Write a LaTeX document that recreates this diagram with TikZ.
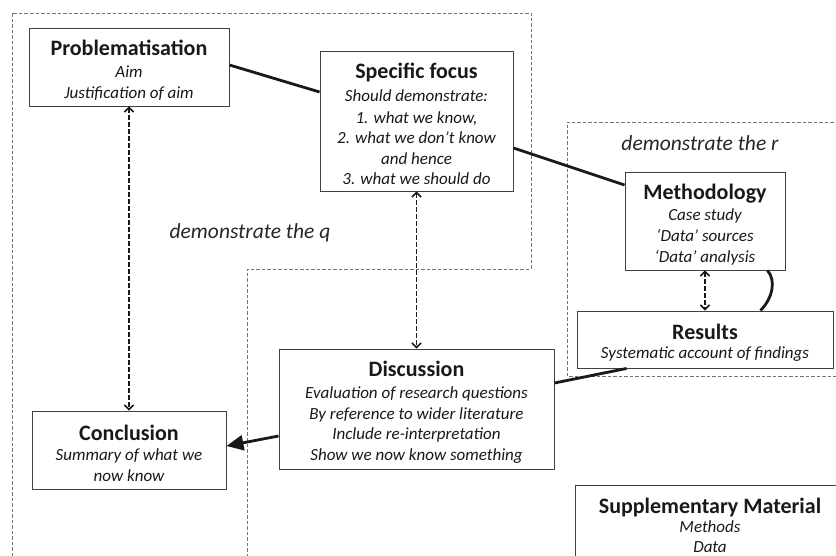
\documentclass[tikz,border=0pt]{standalone}
\usepackage{fontspec}
\setmainfont{Carlito}
\usetikzlibrary{arrows.meta,calc}
\begin{document}
\begin{tikzpicture}[x=1pt,y=-1pt,
  boxline/.style={draw=black!75,line width=0.9pt},
  box/.style={boxline,fill=white,align=center,inner sep=0pt,
    font=\fontsize{17}{20.6}\selectfont\itshape,text=black!90},
  region/.style={draw=black!55,line width=0.8pt,dash pattern=on 3.5pt off 2pt},
  thick link/.style={line width=2.8pt,black!90},
  dlink/.style={line width=1.8pt,black!90,dash pattern=on 5pt off 2pt,
    {Straight Barb[length=4.5pt,width=9pt,line width=1.6pt]}-{Straight Barb[length=4.5pt,width=9pt,line width=1.6pt]}},
  lbl/.style={font=\fontsize{21.5}{24}\selectfont\itshape,text=black!85,inner sep=0pt}]
\useasboundingbox (0,0) rectangle (836,556);
\clip (0,0) rectangle (836,556);
\newcommand{\ttl}[1]{{\upshape\bfseries\fontsize{22}{24}\selectfont\rule{0pt}{22pt}#1}}
% regions
\draw[region] (12,556) -- (12,13) -- (531,13) -- (531,269) -- (247,269) -- (247,556);
\draw[region] (850,122) -- (567,122) -- (567,376) -- (850,376);
\node[lbl] (lq) at (250,233) {demonstrate the q};
\node[lbl] (lr) at (700,143) {demonstrate the r};
% nodes
\node[box,minimum width=200,minimum height=78] (prob) at (129,67)
  {\ttl{Problematisation}\\[1pt] Aim\\ Justification of aim};
\node[box,minimum width=193,minimum height=140] (spec) at (416.5,121)
  {\ttl{Specific focus}\\[2pt] Should demonstrate:\\[1pt] 1. what we know,\\ 2. what we don’t know\\ and hence\\ 3. what we should do};
\node[box,minimum width=160,minimum height=98] (meth) at (705,221)
  {\ttl{Methodology}\\[1pt] Case study\\ ‘Data’ sources\\ ‘Data’ analysis};
\node[box,minimum width=256,minimum height=57] (res) at (705,339.5)
  {\ttl{Results}\\[-1pt] Systematic account of findings};
\node[box,minimum width=275,minimum height=120] (disc) at (416.5,409)
  {\ttl{Discussion}\\[1pt] Evaluation of research questions\\ By reference to wider literature\\ Include re-interpretation\\ Show we now know something};
\node[box,minimum width=194,minimum height=78] (conc) at (129,450)
  {\ttl{Conclusion}\\[0pt] Summary of what we\\ now know};
\node[box,draw=none,fill=none,minimum width=268,anchor=north,text depth=0pt,
  font=\fontsize{17}{20}\selectfont\itshape] (supp) at (710,485)
  {{\upshape\bfseries\fontsize{22}{24}\selectfont\rule{0pt}{28pt}Supplementary Material}\\[-1pt] Methods\\ Data};
\draw[boxline] ([yshift=-30pt]supp.south west) -- (supp.north west) -- (supp.north east) -- ([yshift=-30pt]supp.south east);
% connectors
\draw[thick link] ([yshift=2pt]prob.east) -- ([yshift=29pt]spec.west);
\draw[thick link] ([yshift=-27pt]spec.east) -- ([yshift=36pt]meth.west);
\draw[thick link] ([xshift=50pt]res.south west) -- ([yshift=26pt]disc.east);
\draw[thick link] ([xshift=-18pt]meth.south east) .. controls +(9,10) and +(12,-12) .. ([xshift=-73pt]res.north east);
\draw[line width=2.8pt,black!90,-{Triangle[length=17pt,width=15pt]}] ([yshift=-27pt]disc.west) -- ([yshift=4pt]conc.east);
\draw[dlink] (prob.south) -- (conc.north);
\draw[dlink] (spec.south) -- (disc.north);
\draw[dlink] (meth.south) -- (res.north);
\end{tikzpicture}
\end{document}
